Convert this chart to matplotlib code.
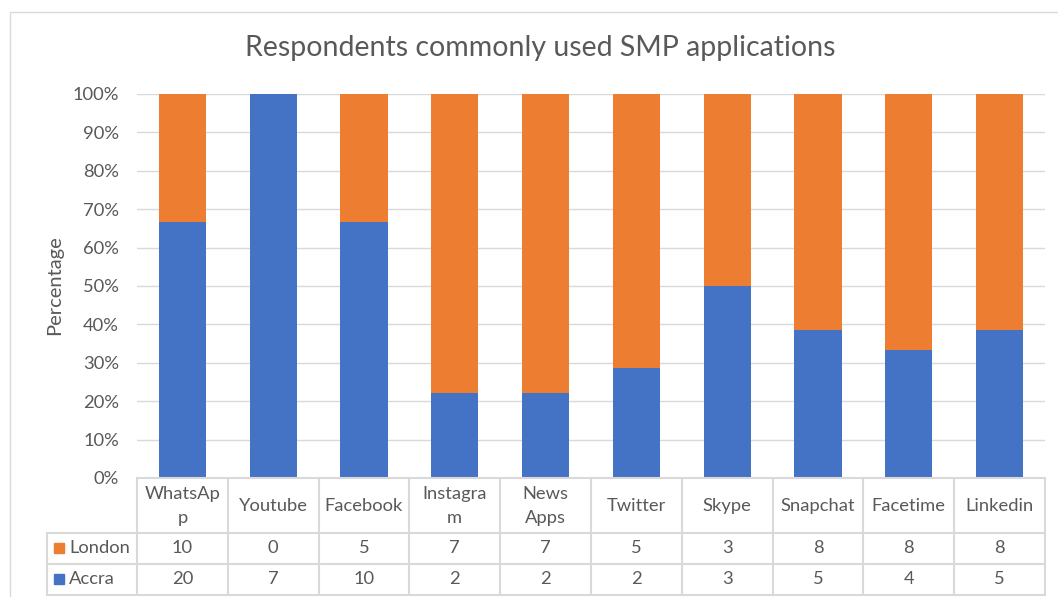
import matplotlib.pyplot as plt
from matplotlib.patches import Rectangle
import numpy as np

plt.rcParams['font.family'] = ['Lato', 'DejaVu Sans']

apps = ["WhatsAp\np", "Youtube", "Facebook", "Instagra\nm", "News\nApps",
        "Twitter", "Skype", "Snapchat", "Facetime", "Linkedin"]
london = [10, 0, 5, 7, 7, 5, 3, 8, 8, 8]
accra = [20, 7, 10, 2, 2, 2, 3, 5, 4, 5]
yticks = [0, 10, 20, 30, 40, 50, 60, 70, 80, 90, 100]

blue = "#4472c4"
orange = "#ed7d31"
grey_txt = "#595959"
grid_c = "#d9d9d9"
fs = 13.2

W, H = 1058, 597
fig = plt.figure(figsize=(W / 100, H / 100), dpi=100)

# outer chart border
fig.patches.append(Rectangle((10 / W, -0.1), 1.2, 1 - 12 / H + 0.1, transform=fig.transFigure,
                             fill=False, edgecolor="#d9d9d9", lw=1))

x0, x1 = 137, 1045
y_top, y_bot = 94, 478
ax = fig.add_axes([x0 / W, 1 - y_bot / H, (x1 - x0) / W, (y_bot - y_top) / H])

tot = np.array(london) + np.array(accra)
p_accra = np.array(accra) / tot * 100
p_london = np.array(london) / tot * 100
x = np.arange(len(apps))
ax.bar(x, p_accra, width=0.52, color=blue, zorder=3)
ax.bar(x, p_london, width=0.52, bottom=p_accra, color=orange, zorder=3)

ax.set_xlim(-0.5, len(apps) - 0.5)
ax.set_ylim(0, 100)
ax.set_yticks(yticks)
ax.set_yticklabels([f"{v}%" for v in yticks], fontsize=fs, color=grey_txt)
ax.tick_params(axis="y", length=0, pad=13)
ax.set_xticks([])
ax.grid(axis="y", color=grid_c, lw=1, zorder=0)
for s in ax.spines.values():
    s.set_visible(False)
fig.text(55 / W, 1 - 285 / H, "Percentage", rotation=90, ha="center", va="center",
         fontsize=14.5, color=grey_txt)

fig.text(540 / W, 1 - 48 / H, "Respondents commonly used SMP applications",
         ha="center", va="center", fontsize=20.5, color=grey_txt)

# data table
cw = (x1 - x0) / len(apps)
tx0 = 47
tb = 595
tab = fig.add_axes([tx0 / W, 1 - tb / H, (x1 - tx0) / W, (tb - 478) / H])
left = -0.5 - (x0 - tx0) / cw
tab.set_xlim(left, len(apps) - 0.5)
tab.set_ylim(tb, 478)
tab.axis("off")
rows = [478, 533, 564, tb]
lc = grid_c
for r in rows[1:]:
    tab.plot([left, len(apps) - 0.5], [r, r], color=lc, lw=1.5, clip_on=False)
tab.plot([-0.5, len(apps) - 0.5], [478, 478], color=lc, lw=1.5, clip_on=False)
tab.plot([left, left], [533, tb], color=lc, lw=1.5, clip_on=False)
for i in range(len(apps) + 1):
    tab.plot([i - 0.5, i - 0.5], [478, tb], color=lc, lw=1.5, clip_on=False)

for i, name in enumerate(apps):
    tab.text(i, 506, name, ha="center", va="center", fontsize=fs,
             color=grey_txt, linespacing=1.55)
    tab.text(i, 548.5, str(london[i]), ha="center", va="center", fontsize=fs, color=grey_txt)
    tab.text(i, 579.5, str(accra[i]), ha="center", va="center", fontsize=fs, color=grey_txt)

for yy, lab, col in [(548.5, "London", orange), (579.5, "Accra", blue)]:
    tab.add_patch(Rectangle((left + 7 / cw, yy - 5), 10 / cw, 10, color=col, clip_on=False))
    tab.text(left + 22 / cw, yy, lab, ha="left", va="center", fontsize=fs, color=grey_txt)

fig.savefig("out.png", dpi=100)
